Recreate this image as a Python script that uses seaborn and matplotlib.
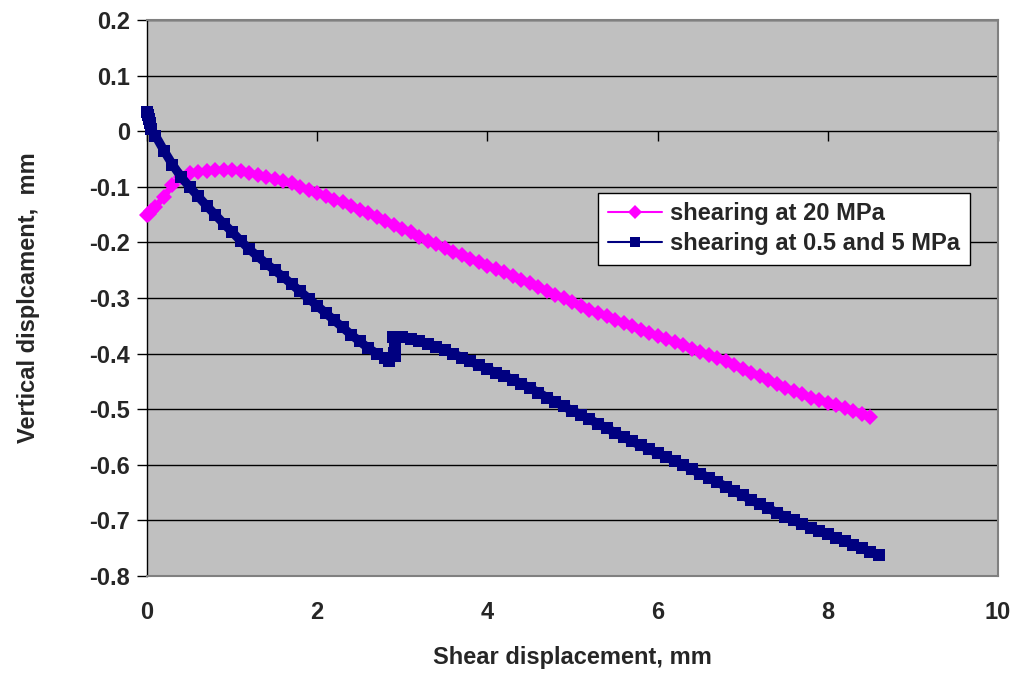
import numpy as np
import matplotlib
matplotlib.use("Agg")
import matplotlib.pyplot as plt
import seaborn as sns

# shearing at 20 MPa (magenta diamonds)
shear_20 = [0.00, 0.02, 0.05, 0.10, 0.20, 0.30, 0.40, 0.50, 0.60, 0.70, 0.80, 0.90,
            1.00, 1.10, 1.20, 1.30, 1.40, 1.50, 1.60, 1.70, 1.80, 1.90,
            2.00, 2.10, 2.20, 2.30, 2.40, 2.50, 2.60, 2.70, 2.80, 2.90,
            3.00, 3.10, 3.20, 3.30, 3.40, 3.50, 3.60, 3.70, 3.80, 3.90,
            4.00, 4.10, 4.20, 4.30, 4.40, 4.50, 4.60, 4.70, 4.80, 4.90,
            5.00, 5.10, 5.20, 5.30, 5.40, 5.50, 5.60, 5.70, 5.80, 5.90,
            6.00, 6.10, 6.20, 6.30, 6.40, 6.50, 6.60, 6.70, 6.80, 6.90,
            7.00, 7.10, 7.20, 7.30, 7.40, 7.50, 7.60, 7.70, 7.80, 7.90,
            8.00, 8.10, 8.20, 8.30, 8.40, 8.50]
vert_20 = [-0.151, -0.149, -0.143, -0.136, -0.118, -0.096, -0.083, -0.076, -0.073, -0.071, -0.070, -0.069,
           -0.070, -0.072, -0.075, -0.078, -0.082, -0.086, -0.090, -0.094, -0.100, -0.105,
           -0.111, -0.117, -0.123, -0.128, -0.134, -0.141, -0.148, -0.154, -0.161, -0.168,
           -0.175, -0.182, -0.190, -0.197, -0.203, -0.210, -0.217, -0.223, -0.229, -0.236,
           -0.242, -0.248, -0.254, -0.260, -0.267, -0.273, -0.280, -0.287, -0.294, -0.300,
           -0.307, -0.314, -0.321, -0.327, -0.333, -0.339, -0.345, -0.351, -0.358, -0.363,
           -0.369, -0.374, -0.380, -0.385, -0.391, -0.397, -0.402, -0.408, -0.414, -0.420,
           -0.427, -0.434, -0.441, -0.448, -0.455, -0.461, -0.467, -0.473, -0.479, -0.484,
           -0.489, -0.493, -0.498, -0.503, -0.508, -0.514]

# shearing at 0.5 and 5 MPa (navy squares), jump near 2.9 mm
shear_05 = [0.00, 0.01, 0.02, 0.03, 0.05, 0.10, 0.20, 0.30, 0.40, 0.50, 0.60, 0.70, 0.80, 0.90,
            1.00, 1.10, 1.20, 1.30, 1.40, 1.50, 1.60, 1.70, 1.80, 1.90,
            2.00, 2.10, 2.20, 2.30, 2.40, 2.50, 2.60, 2.70, 2.80, 2.85, 2.90,
            2.92, 2.91, 2.90, 2.89,
            3.00, 3.10, 3.20, 3.30, 3.40, 3.50, 3.60, 3.70, 3.80, 3.90,
            4.00, 4.10, 4.20, 4.30, 4.40, 4.50, 4.60, 4.70, 4.80, 4.90,
            5.00, 5.10, 5.20, 5.30, 5.40, 5.50, 5.60, 5.70, 5.80, 5.90,
            6.00, 6.10, 6.20, 6.30, 6.40, 6.50, 6.60, 6.70, 6.80, 6.90,
            7.00, 7.10, 7.20, 7.30, 7.40, 7.50, 7.60, 7.70, 7.80, 7.90,
            8.00, 8.10, 8.20, 8.30, 8.40, 8.50, 8.60]
vert_05 = [0.035, 0.030, 0.022, 0.014, 0.004, -0.008, -0.035, -0.060, -0.082, -0.100, -0.117, -0.134, -0.150, -0.166,
           -0.181, -0.197, -0.212, -0.225, -0.238, -0.250, -0.262, -0.275, -0.288, -0.301,
           -0.314, -0.327, -0.340, -0.353, -0.366, -0.378, -0.390, -0.400, -0.408, -0.413, -0.416,
           -0.405, -0.392, -0.380, -0.370,
           -0.371, -0.373, -0.378, -0.382, -0.388, -0.394, -0.400, -0.407, -0.414, -0.421,
           -0.428, -0.434, -0.440, -0.447, -0.454, -0.462, -0.470, -0.479, -0.487, -0.495,
           -0.503, -0.510, -0.518, -0.526, -0.534, -0.542, -0.550, -0.558, -0.565, -0.572,
           -0.579, -0.586, -0.593, -0.600, -0.608, -0.616, -0.623, -0.631, -0.639, -0.647,
           -0.655, -0.663, -0.671, -0.678, -0.686, -0.693, -0.700, -0.707, -0.713, -0.719,
           -0.725, -0.731, -0.737, -0.744, -0.750, -0.757, -0.763]

x_ticks = [0, 2, 4, 6, 8, 10]
y_ticks = [-0.8, -0.7, -0.6, -0.5, -0.4, -0.3, -0.2, -0.1, 0, 0.1, 0.2]
y_labels = ["-0.8", "-0.7", "-0.6", "-0.5", "-0.4", "-0.3", "-0.2", "-0.1", "0", "0.1", "0.2"]

FS = 17

sns.set_theme(style="white")
plt.rcParams["font.family"] = ["Liberation Sans", "DejaVu Sans"]
plt.rcParams["font.weight"] = "bold"

fig = plt.figure(figsize=(10.17, 6.78), dpi=100)
ax = fig.add_axes([0.1445, 0.1504, 0.8368, 0.8201])
ax.set_facecolor("#C0C0C0")

sns.lineplot(x=shear_20, y=vert_20, sort=False, ax=ax, color="#FF00FF",
             marker="D", markersize=8, markeredgewidth=0, linewidth=4.5,
             label="shearing at 20 MPa", zorder=3, clip_on=False)
sns.lineplot(x=shear_05, y=vert_05, sort=False, ax=ax, color="#000080",
             marker="s", markersize=8.5, markeredgewidth=0, linewidth=6.5,
             label="shearing at 0.5 and 5 MPa", zorder=3, clip_on=False)

ax.set_xlim(0, 10)
ax.set_ylim(-0.8, 0.2)
ax.set_xticks(x_ticks)
ax.set_yticks(y_ticks)
ax.set_yticklabels(y_labels)

# horizontal gridlines only, black like Excel
ax.yaxis.grid(True, color="black", linewidth=1)
ax.xaxis.grid(False)
ax.set_axisbelow(True)

for side in ["top", "right", "bottom"]:
    ax.spines[side].set_color("#808080")
    ax.spines[side].set_linewidth(1.5)
ax.spines["left"].set_color("black")
ax.spines["left"].set_linewidth(1)

ax.tick_params(axis="y", left=True, direction="out", length=7, width=1,
               color="black", labelsize=FS, pad=5)
ax.tick_params(axis="x", bottom=False, length=0, labelsize=FS, pad=18)
for lab in ax.get_xticklabels() + ax.get_yticklabels():
    lab.set_fontweight("bold")

# x axis crosses at y = 0 with small ticks
sec = ax.secondary_xaxis(0.8)
sec.set_xticks(x_ticks)
sec.tick_params(axis="x", direction="in", length=7, width=1, color="black",
                labeltop=False, labelbottom=False)
sec.spines["top"].set_visible(False)
sec.spines["bottom"].set_visible(False)

ax.set_xlabel("Shear displacement, mm", fontsize=FS, fontweight="bold")
ax.set_ylabel("Vertical displcament,  mm", fontsize=FS, fontweight="bold")
ax.xaxis.set_label_coords(0.5, -0.125)
ax.yaxis.set_label_coords(-0.126, 0.5)

leg = ax.legend(loc="upper right", bbox_to_anchor=(0.967, 0.689), borderaxespad=0,
                frameon=True, fancybox=False, framealpha=1, facecolor="white",
                edgecolor="black", fontsize=FS, handlelength=2.3,
                handletextpad=0.35, borderpad=0.4, labelspacing=0.3)
leg.get_frame().set_linewidth(1)
leg.set_zorder(5)
for line in leg.get_lines():
    line.set_linewidth(1.5)
    line.set_markersize(7)
for t in leg.get_texts():
    t.set_fontweight("bold")

fig.savefig("out.png", dpi=100)
